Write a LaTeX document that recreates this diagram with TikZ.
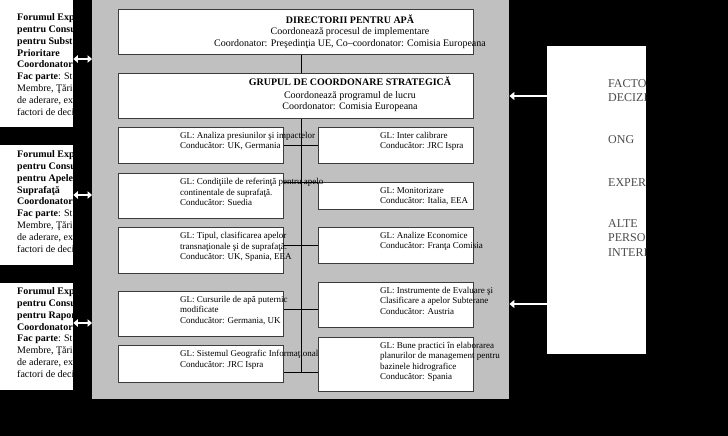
\documentclass[tikz,border=0pt]{standalone}
\usepackage{fontspec}
\setmainfont{Liberation Serif}
\usetikzlibrary{arrows.meta}

\definecolor{panelgray}{RGB}{192,192,192}
\definecolor{boxline}{RGB}{60,60,60}
\definecolor{actortext}{RGB}{75,75,75}

\tikzset{
  box/.style={draw=boxline, line width=0.9pt, fill=white, inner sep=0pt, anchor=north west},
  sheet/.style={fill=white, inner sep=0pt, anchor=north west},
  gltext/.style={anchor=north west, align=left, inner sep=0pt, font=\fontsize{9}{10.5}\selectfont},
  headtext/.style={anchor=north, align=center, inner sep=0pt, font=\fontsize{10}{11.5}\selectfont},
  forumtext/.style={anchor=north west, align=left, inner sep=0pt, font=\fontsize{10}{11.8}\selectfont},
  actor/.style={anchor=north west, align=left, inner sep=0pt, text=actortext, font=\fontsize{12}{14.5}\selectfont},
  link/.style={draw=black, line width=0.8pt},
  twoway/.style={white, line width=2.4pt, {Triangle[width=7.5pt,length=4.5pt]}-{Triangle[width=7.5pt,length=4.5pt]}},
  oneway/.style={white, line width=2.6pt, -{Triangle[width=8pt,length=5pt]}}
}

\begin{document}
\begin{tikzpicture}[x=1pt,y=-1pt]
	\fill[black] (0,0) rectangle (728,436);
	\useasboundingbox (0,0) rectangle (728,436);

	\node[fill=panelgray, inner sep=0pt, anchor=north west, minimum width=417pt, minimum height=401pt] (panel) at (92,-2) {};

	% forumuri (stanga)
	\node[sheet, minimum width=75pt, minimum height=129pt] (forum1) at (-2,-2) {};
	\node[sheet, minimum width=75pt, minimum height=120pt] (forum2) at (-2,145) {};
	\node[sheet, minimum width=75pt, minimum height=107pt] (forum3) at (-2,283) {};

	\begin{scope}
		\clip (forum1.north west) rectangle (forum1.south east);
		\node[forumtext] (forum1text) at (17,13.5) {\textbf{Forumul Exp}\\\textbf{pentru Consu}\\\textbf{pentru Subst}\\\textbf{Prioritare}\\\textbf{Coordonator}\\\textbf{Fac parte}: St\\Membre, Ţări\\de aderare, ex\\factori de deci};
	\end{scope}
	\begin{scope}
		\clip (forum2.north west) rectangle (forum2.south east);
		\node[forumtext] (forum2text) at (17,150.5) {\textbf{Forumul Exp}\\\textbf{pentru Consu}\\\textbf{pentru Apele}\\\textbf{Suprafaţă}\\\textbf{Coordonator}\\\textbf{Fac parte}: St\\Membre, Ţări\\de aderare, ex\\factori de deci};
	\end{scope}
	\begin{scope}
		\clip (forum3.north west) rectangle (forum3.south east);
		\node[forumtext] (forum3text) at (17,287.5) {\textbf{Forumul Exp}\\\textbf{pentru Consu}\\\textbf{pentru Rapor}\\\textbf{Coordonator}\\\textbf{Fac parte}: St\\Membre, Ţări\\de aderare, ex\\factori de deci};
	\end{scope}

	% actori (dreapta)
	\node[sheet, minimum width=99pt, minimum height=308pt] (actori) at (547,46) {};
	\begin{scope}
		\clip (actori.north west) rectangle (actori.south east);
		\node[actor] (factori) at (608,79) {FACTO\\DECIZI};
		\node[actor] (ong) at (608,135) {ONG};
		\node[actor] (experti) at (608,178) {EXPER};
		\node[actor] (altele) at (608,219) {ALTE\\PERSO\\INTERI};
	\end{scope}

	% directori si grupul strategic
	\node[box, minimum width=355pt, minimum height=45pt] (dir) at (118,9) {};
	\node[box, minimum width=355pt, minimum height=45pt] (gsc) at (118,73) {};

	% grupuri de lucru
	\node[box, minimum width=165pt, minimum height=36pt] (gl1) at (118,127) {};
	\node[box, minimum width=165pt, minimum height=45pt] (gl2) at (118,173) {};
	\node[box, minimum width=165pt, minimum height=46pt] (gl3) at (118,227) {};
	\node[box, minimum width=165pt, minimum height=45pt] (gl4) at (118,291) {};
	\node[box, minimum width=165pt, minimum height=37pt] (gl5) at (118,345) {};

	\node[box, minimum width=155pt, minimum height=36pt] (gr1) at (318,127) {};
	\node[box, minimum width=155pt, minimum height=27pt] (gr2) at (318,182) {};
	\node[box, minimum width=155pt, minimum height=36pt] (gr3) at (318,227) {};
	\node[box, minimum width=155pt, minimum height=45pt] (gr4) at (318,282) {};
	\node[box, minimum width=155pt, minimum height=54pt] (gr5) at (318,337) {};

	% trunchi si ramuri
	\coordinate (h1) at (301,145);
	\coordinate (h2) at (301,182);
	\coordinate (h3) at (301,245);
	\coordinate (h4) at (301,309);
	\coordinate (h5) at (301,372);
	\draw[link] (dir.south -| h1) -- (gsc.north -| h1);
	\draw[link] (gsc.south -| h1) -- (h5);
	\foreach \i in {1,...,5}{
		\draw[link] (h\i -| gl\i.east) -- (h\i -| gr\i.west);
		}

	\node[headtext] (dirtext) at (350,14.5) {\textbf{DIRECTORII PENTRU APĂ}\\Coordonează procesul de implementare\\Coordonator: Preşedinţia UE, Co–coordonator: Comisia Europeana};
	\node[headtext] (gsctext) at (350,76.5) {\textbf{GRUPUL DE COORDONARE STRATEGICĂ}\\[1.5pt]Coordonează programul de lucru\\Coordonator: Comisia Europeana};

	\node[gltext] (gl1text) at ([xshift=62pt,yshift=-5pt]gl1.north west) {GL: Analiza presiunilor şi impactelor\\Conducător: UK, Germania};
	\node[gltext] (gl2text) at ([xshift=62pt,yshift=-5pt]gl2.north west) {GL: Condiţiile de referinţă pentru apelo\\continentale de suprafaţă.\\Conducător: Suedia};
	\node[gltext] (gl3text) at ([xshift=62pt,yshift=-5pt]gl3.north west) {GL: Tipul, clasificarea apelor\\transnaţionale şi de suprafaţă.\\Conducător: UK, Spania, EEA};
	\node[gltext] (gl4text) at ([xshift=62pt,yshift=-5pt]gl4.north west) {GL: Cursurile de apă puternic\\modificate\\Conducător: Germania, UK};
	\node[gltext] (gl5text) at ([xshift=62pt,yshift=-5pt]gl5.north west) {GL: Sistemul Geografic Informaţional\\Conducător: JRC Ispra};

	\node[gltext] (gr1text) at ([xshift=62pt,yshift=-5pt]gr1.north west) {GL: Inter calibrare\\Conducător: JRC Ispra};
	\node[gltext] (gr2text) at ([xshift=62pt,yshift=-5pt]gr2.north west) {GL: Monitorizare\\Conducător: Italia, EEA};
	\node[gltext] (gr3text) at ([xshift=62pt,yshift=-5pt]gr3.north west) {GL: Analize Economice\\Conducător: Franţa Comisia};
	\node[gltext] (gr4text) at ([xshift=62pt,yshift=-5pt]gr4.north west) {GL: Instrumente de Evaluare şi\\Clasificare a apelor Subterane\\Conducător: Austria};
	\node[gltext] (gr5text) at ([xshift=62pt,yshift=-5pt]gr5.north west) {GL: Bune practici în elaborarea\\planurilor de management pentru\\bazinele hidrografice\\Conducător: Spania};

	% sageti
	\coordinate (a1) at (0,59);
	\coordinate (a2) at (0,195);
	\coordinate (a3) at (0,323);
	\foreach \k in {1,2,3}{
		\draw[twoway] (a\k -| forum\k.east) -- (a\k -| panel.west);
		}
	\coordinate (b1) at (0,96);
	\coordinate (b2) at (0,304);
	\foreach \k in {1,2}{
		\draw[oneway] (b\k -| actori.west) -- (b\k -| panel.east);
		}
\end{tikzpicture}
\end{document}
